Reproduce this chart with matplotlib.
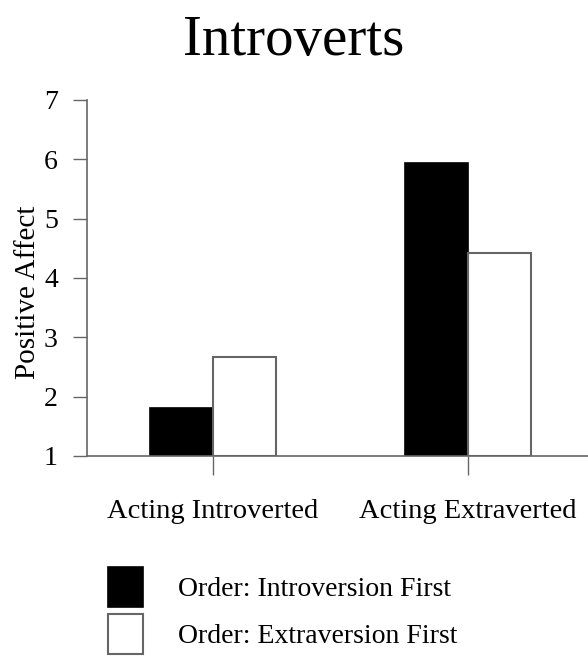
import numpy as np
import matplotlib.pyplot as plt

# data
conditions = ['Acting Introverted', 'Acting Extraverted']
intro_first = [1.81, 5.94]
extra_first = [2.67, 4.42]
series_labels = ['Order: Introversion First', 'Order: Extraversion First']
yticks = [1, 2, 3, 4, 5, 6, 7]

plt.rcParams['font.family'] = ['Liberation Serif', 'DejaVu Serif']

fig = plt.figure(figsize=(5.88, 6.57), dpi=100)
ax = fig.add_axes([0.148, 0.306, 0.852, 0.542])

x = np.arange(len(conditions))
w = 0.247
base = 1
ax.bar(x - w/2, np.array(intro_first) - base, w, bottom=base, color='black',
       edgecolor='black', linewidth=1.2, label=series_labels[0])
ax.bar(x + w/2, np.array(extra_first) - base, w, bottom=base, color='white',
       edgecolor='#666666', linewidth=1.5, label=series_labels[1])

ax.set_ylim(1, 7)
ax.set_xlim(-0.494, 1.47)
ax.set_yticks(yticks)
ax.set_xticks(x)
ax.set_xticklabels(conditions)
ax.tick_params(axis='y', length=10, width=1, color='#666666', labelsize=20, pad=11)
ax.tick_params(axis='x', length=14, width=1, color='#666666', labelsize=20.5, pad=17)
for s in ['top', 'right']:
    ax.spines[s].set_visible(False)
for s in ['left', 'bottom']:
    ax.spines[s].set_color('#666666')
    ax.spines[s].set_linewidth(1.2)

ax.set_ylabel('Positive Affect', fontsize=21)
ax.yaxis.set_label_coords(-0.092, 0.46)
fig.text(0.5, 0.937, 'Introverts', ha='center', va='center', fontsize=41)

fig.legend(loc='upper left', bbox_to_anchor=(108/588, 1 - 567/657), frameon=False,
           fontsize=20, handlelength=1.26, handleheight=1.84, handletextpad=1.26,
           labelspacing=0.25, borderpad=0, borderaxespad=0)

fig.savefig('out.png', dpi=100)
